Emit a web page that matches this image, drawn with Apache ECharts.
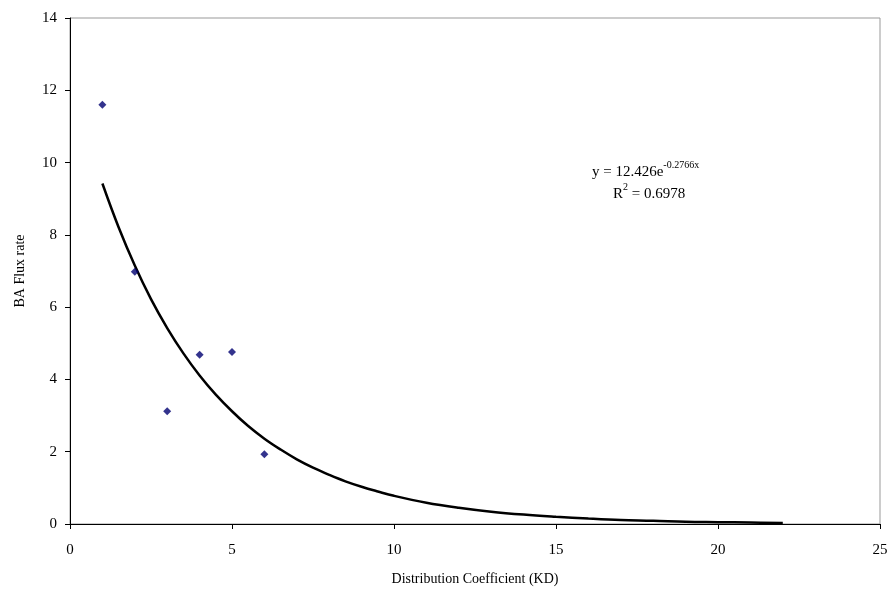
<!DOCTYPE html>
<html>
<head>
<meta charset="utf-8">
<script src="https://cdn.jsdelivr.net/npm/echarts@6/dist/echarts.min.js"></script>
<style>
html,body{margin:0;padding:0;background:#fff;}
#chart{width:893px;height:596px;}
</style>
</head>
<body>
<div id="chart"></div>
<script>
// Observed data points
var kdValues = [1, 2, 3, 4, 5, 6];
var fluxValues = [11.6, 6.98, 3.12, 4.68, 4.76, 1.93];
// Trend line
var trendX = [1, 1.5, 2, 2.5, 3, 3.5, 4, 4.5, 5, 5.5, 6, 6.5, 7, 7.5, 8, 8.5, 9, 9.5, 10, 11, 12, 13, 14, 15, 16, 17, 18, 19, 20, 21, 22];
var trendY = [9.42, 8.21, 7.15, 6.22, 5.42, 4.72, 4.11, 3.58, 3.12, 2.71, 2.36, 2.06, 1.79, 1.56, 1.36, 1.18, 1.03, 0.90, 0.78, 0.59, 0.45, 0.34, 0.26, 0.20, 0.15, 0.11, 0.09, 0.06, 0.05, 0.04, 0.03];
var xTicks = [0, 5, 10, 15, 20, 25];
var yTicks = [0, 2, 4, 6, 8, 10, 12, 14];
var xTitle = 'Distribution Coefficient (KD)';
var yTitle = 'BA Flux rate';

var font = "'Liberation Serif', 'Times New Roman', serif";
var chart = echarts.init(document.getElementById('chart'), null, {renderer: 'canvas'});
var scatterData = kdValues.map(function (x, i) { return [x, fluxValues[i]]; });
var trendData = trendX.map(function (x, i) { return [x, trendY[i]]; });

chart.setOption({
  animation: false,
  backgroundColor: '#fff',
  grid: {left: 70, right: 13, top: 18, bottom: 72, show: true, borderColor: '#999', borderWidth: 1, containLabel: false},
  xAxis: {
    type: 'value', min: xTicks[0], max: xTicks[xTicks.length - 1], interval: 5,
    name: xTitle, nameLocation: 'middle', nameGap: 48,
    nameTextStyle: {fontFamily: font, fontSize: 14, color: '#000'},
    axisLine: {show: true, onZero: false, lineStyle: {color: '#000', width: 1}},
    axisTick: {show: true, inside: false, length: 5, lineStyle: {color: '#000'}},
    axisLabel: {fontFamily: font, fontSize: 15, color: '#000', margin: 19},
    splitLine: {show: false}
  },
  yAxis: {
    type: 'value', min: yTicks[0], max: yTicks[yTicks.length - 1], interval: 2,
    name: yTitle, nameLocation: 'middle', nameGap: 43, nameRotate: 90,
    nameTextStyle: {fontFamily: font, fontSize: 14, color: '#000'},
    axisLine: {show: true, onZero: false, lineStyle: {color: '#000', width: 1}},
    axisTick: {show: true, inside: false, length: 5, lineStyle: {color: '#000'}},
    axisLabel: {fontFamily: font, fontSize: 15, color: '#000', margin: 13},
    splitLine: {show: false}
  },
  series: [
    {
      type: 'line', data: trendData, smooth: 0.4,
      showSymbol: false, symbol: 'none',
      lineStyle: {color: '#000', width: 2.5}, z: 2
    },
    {
      type: 'scatter', data: scatterData, symbol: 'diamond', symbolSize: 8,
      itemStyle: {color: '#000070'}, z: 3
    }
  ],
  graphic: [
    {
      type: 'text', left: 592, top: 160,
      style: {
        text: '{a|y = 12.426e}{s|-0.2766x}',
        rich: {
          a: {fontFamily: font, fontSize: 15, color: '#000', lineHeight: 20, verticalAlign: 'bottom'},
          s: {fontFamily: font, fontSize: 10, color: '#000', lineHeight: 20, verticalAlign: 'top'}
        }
      }
    },
    {
      type: 'text', left: 613, top: 182,
      style: {
        text: '{a|R}{s|2}{a| = 0.6978}',
        rich: {
          a: {fontFamily: font, fontSize: 15, color: '#000', lineHeight: 20, verticalAlign: 'bottom'},
          s: {fontFamily: font, fontSize: 10, color: '#000', lineHeight: 20, verticalAlign: 'top'}
        }
      }
    }
  ]
});
</script>
</body>
</html>
